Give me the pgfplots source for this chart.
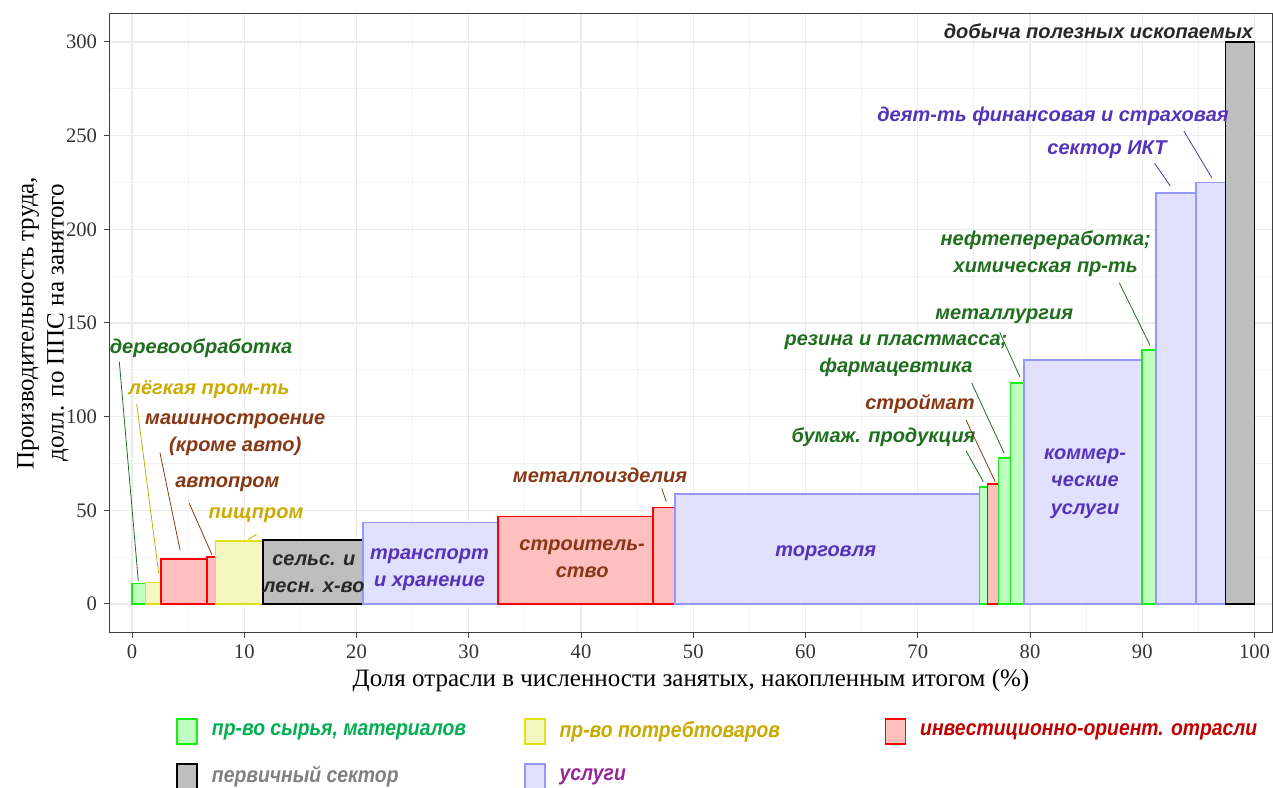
\documentclass[border=0pt]{standalone}
\usepackage{pgfplots}
\pgfplotsset{compat=1.18}
\usepackage{fontspec}
\setmainfont{Liberation Serif}
\setsansfont{Liberation Sans}
\newfontfamily\legfont{Liberation Sans}[FakeStretch=0.88]
% bar colours
\definecolor{gB}{RGB}{20,240,20}
\definecolor{gF}{RGB}{191,255,191}
\definecolor{yB}{RGB}{225,225,20}
\definecolor{yF}{RGB}{246,246,192}
\definecolor{rB}{RGB}{255,0,0}
\definecolor{rF}{RGB}{255,191,191}
\definecolor{kB}{RGB}{0,0,0}
\definecolor{kF}{RGB}{190,190,190}
\definecolor{bB}{RGB}{150,150,255}
\definecolor{bF}{RGB}{225,225,255}
% label colours
\definecolor{lG}{RGB}{30,110,30}
\definecolor{lY}{RGB}{205,170,0}
\definecolor{lR}{RGB}{135,55,20}
\definecolor{lK}{RGB}{40,40,40}
\definecolor{lB}{RGB}{85,50,185}
% legend text colours
\definecolor{legG}{RGB}{0,176,80}
\definecolor{legY}{RGB}{200,170,0}
\definecolor{legR}{RGB}{192,0,0}
\definecolor{legK}{RGB}{128,128,128}
\definecolor{legB}{RGB}{150,40,150}
\pgfplotsset{
  barG/.style={draw=gB, fill=gF, line width=0.8pt},
  barY/.style={draw=yB, fill=yF, line width=0.8pt},
  barR/.style={draw=rB, fill=rF, line width=0.8pt},
  barK/.style={draw=kB, fill=kF, line width=0.8pt},
  barB/.style={draw=bB, fill=bF, line width=0.8pt},
}
\tikzset{lbl/.style={font=\fontsize{10}{13.6}\selectfont\sffamily\bfseries\itshape}}
\begin{document}
\begin{tikzpicture}
\useasboundingbox (-55pt,-77.5pt) rectangle (581.5pt,316pt);
\begin{axis}[
  at={(0,0)}, anchor=south west,
  width=581pt, height=309pt, scale only axis,
  xmin=-1.96, xmax=101.56, ymin=-14.95, ymax=314.9,
  xtick={0,10,...,100}, ytick={0,50,...,300},
  minor xtick={5,15,...,95}, minor ytick={25,75,...,275},
  grid=both,
  major grid style={draw=black!8, line width=0.7pt},
  minor grid style={draw=black!5, line width=0.4pt},
  axis line style={draw=black!75, line width=0.5pt},
  tick align=outside, major tick length=3pt, minor tick length=0pt,
  tick style={draw=black!75, line width=0.5pt},
  xtick pos=bottom, ytick pos=left,
  /pgf/number format/assume math mode=true,
  ticklabel style={font=\fontsize{10.3}{12}\selectfont, text=black!80},
  label style={font=\fontsize{12.5}{15}\selectfont},
  xlabel={Доля отрасли в численности занятых, накопленным итогом (\%)},
  ylabel={Производительность труда,\\долл. по ППС на занятого},
  xlabel style={at={(axis description cs:0.5,-0.078)}, anchor=center},
  ylabel style={at={(axis description cs:-0.0577,0.5)}, anchor=center, align=center},
  clip=false,
  legend columns=3,
  legend cell align=left,
  legend image code/.code={\draw[#1] (0pt,-6.5pt) rectangle (10pt,6pt); \path (17pt,0pt);},
  legend style={draw=none, fill=none, inner sep=0pt, nodes={inner sep=0pt},
    at={(axis description cs:0.0568,-0.139)}, anchor=north west,
    font=\legfont\fontsize{11}{13}\selectfont\bfseries\itshape,
    column sep=0pt, row sep=9pt},
]
% bars: x0, x1, height
\addplot[barG, forget plot] coordinates {(0,0) (0,11) (1.2,11) (1.2,0)} -- cycle;
\addplot[barY, forget plot] coordinates {(1.2,0) (1.2,11.4) (2.6,11.4) (2.6,0)} -- cycle;
\addplot[barR, forget plot] coordinates {(2.6,0) (2.6,24) (6.7,24) (6.7,0)} -- cycle;
\addplot[barR, forget plot] coordinates {(6.7,0) (6.7,25) (7.45,25) (7.45,0)} -- cycle;
\addplot[barY, forget plot] coordinates {(7.45,0) (7.45,33.6) (11.65,33.6) (11.65,0)} -- cycle;
\addplot[barK, forget plot] coordinates {(11.65,0) (11.65,34) (20.6,34) (20.6,0)} -- cycle;
\addplot[barB, forget plot] coordinates {(20.6,0) (20.6,43.5) (32.6,43.5) (32.6,0)} -- cycle;
\addplot[barR, forget plot] coordinates {(32.6,0) (32.6,46.6) (46.4,46.6) (46.4,0)} -- cycle;
\addplot[barR, forget plot] coordinates {(46.4,0) (46.4,51.5) (48.35,51.5) (48.35,0)} -- cycle;
\addplot[barB, forget plot] coordinates {(48.35,0) (48.35,58.6) (75.5,58.6) (75.5,0)} -- cycle;
\addplot[barG, forget plot] coordinates {(75.5,0) (75.5,62.5) (76.2,62.5) (76.2,0)} -- cycle;
\addplot[barR, forget plot] coordinates {(76.2,0) (76.2,64) (77.2,64) (77.2,0)} -- cycle;
\addplot[barG, forget plot] coordinates {(77.2,0) (77.2,78) (78.25,78) (78.25,0)} -- cycle;
\addplot[barG, forget plot] coordinates {(78.25,0) (78.25,118) (79.45,118) (79.45,0)} -- cycle;
\addplot[barB, forget plot] coordinates {(79.45,0) (79.45,130.2) (90.0,130.2) (90.0,0)} -- cycle;
\addplot[barG, forget plot] coordinates {(90.0,0) (90.0,135.5) (91.2,135.5) (91.2,0)} -- cycle;
\addplot[barB, forget plot] coordinates {(91.2,0) (91.2,219.5) (94.8,219.5) (94.8,0)} -- cycle;
\addplot[barB, forget plot] coordinates {(94.8,0) (94.8,225) (97.4,225) (97.4,0)} -- cycle;
\addplot[barK, forget plot] coordinates {(97.4,0) (97.4,300) (100,300) (100,0)} -- cycle;
% legend
\addlegendimage{barG}
\addlegendentry{\makebox[156pt][l]{\color{legG}пр-во сырья, материалов}}
\addlegendimage{barY}
\addlegendentry{\makebox[162.5pt][l]{\color{legY}пр-во потребтоваров}}
\addlegendimage{barR}
\addlegendentry{\color{legR}инвестиционно-ориент. отрасли}
\addlegendimage{barK}
\addlegendentry{\makebox[156pt][l]{\color{legK}первичный сектор}}
\addlegendimage{barB}
\addlegendentry{\makebox[162.5pt][l]{\color{legB}услуги}}
% labels
\node[lbl, text=lG] at (6.15,136.7) {деревообработка};
\draw[lG, line width=0.4pt] (-1.13,129.3) -- (0.56,12.4);
\node[lbl, text=lY] at (6.86,114.6) {лёгкая пром-ть};
\draw[lY, line width=0.4pt] (0.42,106.8) -- (2.38,16.4);
\node[lbl, text=lR, align=center] at (9.2,90.5) {машиностроение\\(кроме авто)};
\draw[lR, line width=0.4pt] (2.49,80.8) -- (4.28,28.8);
\node[lbl, text=lR] at (8.5,64.0) {автопром};
\draw[lR, line width=0.4pt] (5.1,53.8) -- (7.13,26.2);
\node[lbl, text=lY] at (11.05,47.5) {пищпром};
\draw[lY, line width=0.4pt] (10.36,34.5) -- (11.1,37.2);
\node[lbl, text=lK, align=center] at (16.2,16.0) {сельс. и\\лесн. х-во};
\node[lbl, text=lB, align=center] at (26.5,18.5) {транспорт\\и хранение};
\node[lbl, text=lR, align=center] at (40.1,24.3) {строитель-\\ство};
\node[lbl, text=lR] at (41.7,68.9) {металлоизделия};
\draw[lR, line width=0.4pt] (47.2,61.7) -- (47.6,54.6);
\node[lbl, text=lB] at (61.8,27) {торговля};
\node[lbl, text=lG] at (66.96,89.0) {бумаж. продукция};
\draw[lG, line width=0.4pt] (74.3,81.8) -- (75.84,65.3);
\node[lbl, text=lR] at (70.2,106.8) {строймат};
\draw[lR, line width=0.4pt] (74.3,98.2) -- (76.9,65.3);
\node[lbl, text=lG, align=center] at (68.06,132.5) {резина и пластмасса;\\фармацевтика};
\draw[lG, line width=0.4pt] (74.8,118.1) -- (77.7,80.4);
\node[lbl, text=lG] at (77.7,153.4) {металлургия};
\draw[lG, line width=0.4pt] (77.3,145) -- (79.1,121.3);
\node[lbl, text=lG, align=center] at (81.4,187.1) {нефтепереработка;\\химическая пр-ть};
\draw[lG, line width=0.4pt] (87.96,171.4) -- (90.7,138);
\node[lbl, text=lB, align=center] at (84.9,64.3) {коммер-\\ческие\\услуги};
\node[lbl, text=lB] at (86.86,242.6) {сектор ИКТ};
\draw[lB, line width=0.4pt] (91.1,235.2) -- (92.5,223.1);
\node[lbl, text=lB] at (82.05,260.5) {деят-ть финансовая и страховая};
\draw[lB, line width=0.4pt] (93.7,252.5) -- (96.2,227.4);
\node[lbl, text=lK] at (86.1,305.9) {добыча полезных ископаемых};
\end{axis}
\end{tikzpicture}
\end{document}
